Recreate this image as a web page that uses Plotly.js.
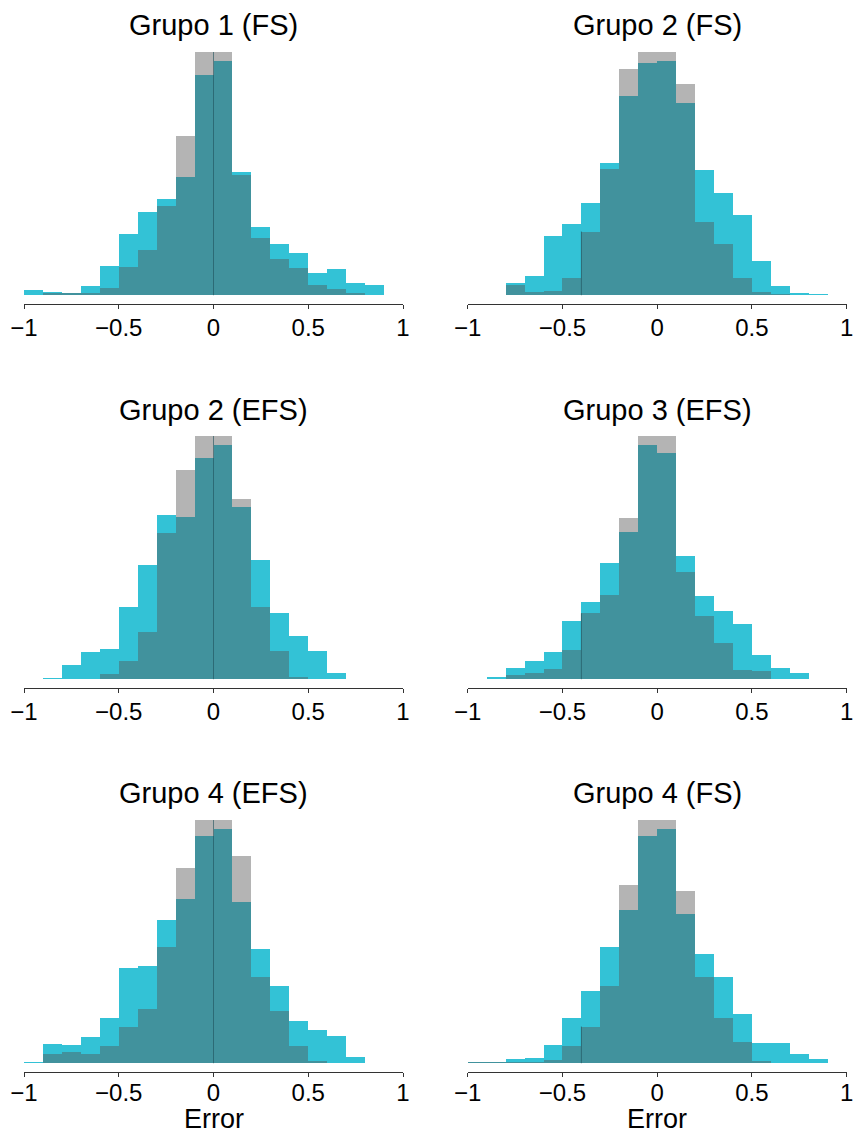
<!DOCTYPE html>
<html>
<head>
<meta charset="utf-8">
<script src="https://cdn.plot.ly/plotly-3.0.1.min.js"></script>
<style>html,body{margin:0;padding:0;background:#fff;}#chart{width:853px;height:1135px;}</style>
</head>
<body>
<div id="chart"></div>
<script>
// Bin centres (bin width 0.1, from -1 to 1)
const binCenters = [-0.95,-0.85,-0.75,-0.65,-0.55,-0.45,-0.35,-0.25,-0.15,-0.05,0.05,0.15,0.25,0.35,0.45,0.55,0.65,0.75,0.85,0.95];
const tickValues = [-1,-0.5,0,0.5,1];

const panelTitles = ["Grupo 1 (FS)","Grupo 2 (FS)","Grupo 2 (EFS)","Grupo 3 (EFS)","Grupo 4 (EFS)","Grupo 4 (FS)"];

// Relative frequencies (tallest bar = 100)
const cyanG1FS  = [2.3,1.2,0.8,4.0,12.2,25.0,34.1,39.4,48.5,90.5,96.3,50.5,27.9,20.9,17.2,9.3,10.7,5.2,4.4,0];
const grayG1FS  = [0,1.0,1.0,0.8,2.9,11.8,18.4,36.5,65.4,100,100,49.5,23.5,14.8,11.1,4.4,2.5,0.8,0,0];

const cyanG2FS  = [0,0,5.2,8.1,24.2,29.1,37.8,54.3,81.9,95.5,96.3,79.0,51.4,41.9,32.8,13.9,3.6,1.1,0.7,0];
const grayG2FS  = [0,0,4.4,1.5,1.9,6.9,26.2,51.8,93.0,100,100,86.8,30.1,20.9,6.9,1.5,0.7,0,0,0];

const cyanG2EFS = [0,0.4,6.0,11.0,12.6,29.9,46.8,67.4,66.6,90.9,96.3,70.7,48.9,27.1,17.6,11.8,2.7,0.3,0,0];
const grayG2EFS = [0,0,0,0,2.3,7.7,19.6,60.0,86.0,100,100,74.0,29.5,11.8,1.1,0.3,0,0,0,0];

const cyanG3EFS = [0,1.1,4.8,7.7,11.4,23.8,31.6,47.7,60.4,96.3,93.0,50.5,34.1,27.9,22.9,9.8,4.8,2.7,0,0];
const grayG3EFS = [0,0,1.9,2.7,4.4,12.2,27.1,34.5,66.2,100,100,44.0,26.2,15.1,4.0,3.2,0,0,0,0];

const cyanG4EFS = [0.4,8.1,7.3,10.6,18.4,39.0,39.8,58.8,67.4,93.4,96.3,66.2,46.8,31.6,17.2,13.5,11.0,2.7,0,0];
const grayG4EFS = [0,3.6,4.8,4.0,6.9,14.7,22.5,47.7,80.2,100,100,85.2,35.3,21.3,6.9,1.1,0,0,0,0];

const cyanG4FS  = [0.7,0.4,1.9,2.3,7.3,18.4,29.5,47.7,62.9,93.4,96.3,61.3,44.8,35.3,20.1,8.5,8.5,4.0,1.9,0];
const grayG4FS  = [0.7,0.4,0.4,0.7,1.5,6.9,15.1,31.6,73.2,100,100,70.7,35.3,18.8,8.9,1.1,0,0,0,0];

const cyanSeries = [cyanG1FS,cyanG2FS,cyanG2EFS,cyanG3EFS,cyanG4EFS,cyanG4FS];
const graySeries = [grayG1FS,grayG2FS,grayG2EFS,grayG3EFS,grayG4EFS,grayG4FS];
// x position of the thin dark bar-edge line visible in each panel
const edgeLineX = [0,-0.4,0,-0.4,0,-0.4];

const W = 853, H = 1135;
const colDomains = [[24/W, 403/W],[467.7/W, 846.7/W]];
const rowPx = [[52,304],[436,688],[820,1072]];
const titleYpx = [25,409.5,793];

const CYAN = '#33c2d6';
const GRAY_OVER = 'rgba(84,84,84,0.44)';

const traces = [];
const layout = {
  width: W, height: H,
  margin: {l:0,r:0,t:0,b:0},
  paper_bgcolor: '#fff', plot_bgcolor: 'rgba(0,0,0,0)',
  showlegend: false,
  barmode: 'overlay',
  bargap: 0,
  annotations: [],
  shapes: [],
  font: {family: 'Liberation Sans, Arial, sans-serif', color: '#000'}
};

for (let i = 0; i < 6; i++) {
  const r = Math.floor(i/2), c = i%2;
  const n = i+1;
  const xa = 'x' + (n===1?'':n), ya = 'y' + (n===1?'':n);
  const xk = 'xaxis' + (n===1?'':n), yk = 'yaxis' + (n===1?'':n);
  traces.push({type:'bar', x: binCenters, y: cyanSeries[i], width: 0.1, xaxis: xa, yaxis: ya,
    marker:{color: CYAN, line:{width:0}}, hoverinfo:'skip'});
  traces.push({type:'bar', x: binCenters, y: graySeries[i], width: 0.1, xaxis: xa, yaxis: ya,
    marker:{color: GRAY_OVER, line:{width:0}}, hoverinfo:'skip'});
  const top = 1 - rowPx[r][0]/H, bot = 1 - rowPx[r][1]/H;
  layout[xk] = {domain: colDomains[c], anchor: ya, range:[-1,1], tickvals: tickValues,
    showline:true, linecolor:'#333', linewidth:1, ticks:'outside', ticklen:4, tickcolor:'#333', tickwidth:1,
    showgrid:false, zeroline:false, fixedrange:true, ticklabeloverflow:'allow',
    ticklabelstandoff: (r === 2 ? -5 : -2),
    tickfont:{size:24, family:'Liberation Sans, Arial, sans-serif', color:'#000'}};
  layout[yk] = {domain:[bot, top], anchor: xa, range:[-3.6,100], visible:false, fixedrange:true};
  layout.annotations.push({text: panelTitles[i], xref:'paper', yref:'paper',
    x: (colDomains[c][0]+colDomains[c][1])/2, y: 1 - titleYpx[r]/H, xanchor:'center', yanchor:'middle',
    showarrow:false, font:{size:29, color:'#000'}});
  // thin dark edge line at a bin border
  const ex = edgeLineX[i];
  const k = binCenters.findIndex(v => Math.abs(v - (ex+0.05)) < 1e-9);
  const h = graySeries[i][k];
  layout.shapes.push({type:'line', xref: xa, yref: ya, x0: ex, x1: ex, y0: 0, y1: h,
    line:{color:'rgba(30,80,90,0.6)', width:1}});
}
['Error','Error'].forEach((t, c) => {
  layout.annotations.push({text: t, xref:'paper', yref:'paper',
    x: (colDomains[c][0]+colDomains[c][1])/2, y: 0, xanchor:'center', yanchor:'bottom',
    showarrow:false, font:{size:27, color:'#000'}, borderpad:0});
});

Plotly.newPlot('chart', traces, layout, {staticPlot:true, displayModeBar:false});
</script>
</body>
</html>
